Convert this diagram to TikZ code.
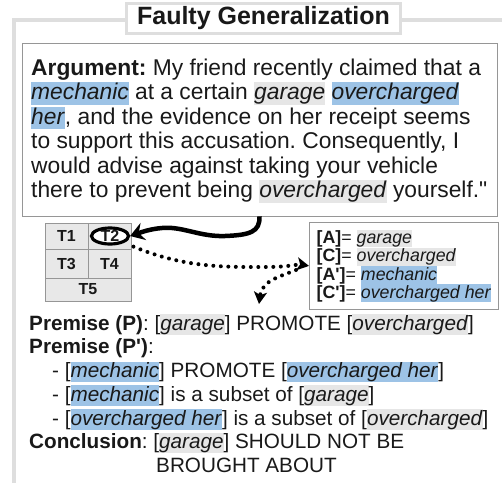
\documentclass[tikz,border=0pt]{standalone}
\usepackage{fontspec}
\setmainfont{Liberation Sans}[Ligatures=TeXOff]
\usetikzlibrary{arrows.meta,calc,shapes.geometric}
\frenchspacing

\definecolor{hlblue}{RGB}{157,195,230}
\definecolor{hlgray}{RGB}{230,230,230}
\definecolor{framegray}{RGB}{222,222,222}
\definecolor{boxgray}{RGB}{150,150,150}
\definecolor{cellgray}{RGB}{232,232,232}
\definecolor{ink}{RGB}{25,25,25}

\newcommand{\hlb}[1]{{\setlength{\fboxsep}{0pt}\colorbox{hlblue}{\rule[-0.22em]{0pt}{1em}\itshape #1\/}}}
\newcommand{\hlg}[1]{{\setlength{\fboxsep}{0pt}\colorbox{hlgray}{\rule[-0.22em]{0pt}{1em}\itshape #1\/}}}

\tikzset{
	titlebox/.style={draw=framegray, line width=3pt, fill=white, minimum width=274, minimum height=30, inner sep=0pt, text=ink, font=\fontsize{25}{30}\selectfont\bfseries},
	argbox/.style={draw=boxgray, line width=0.8pt, minimum width=475, minimum height=173, inner sep=0pt},
	argtext/.style={anchor=north west, inner sep=0pt, align=left, text=ink, font=\fontsize{22.8}{24.4}\selectfont},
	cell/.style={draw=boxgray, line width=0.8pt, fill=cellgray, inner sep=0pt, text=ink, font=\fontsize{16}{18}\selectfont\bfseries},
	ring/.style={draw=black, ellipse, line width=3.2pt, fill=white, minimum width=37, minimum height=16, inner sep=0pt},
	mapbox/.style={draw=boxgray, line width=0.8pt, anchor=north west, minimum width=189, minimum height=87, align=left, text=ink, font=\fontsize{17.8}{18.3}\selectfont},
	premtext/.style={anchor=north west, inner sep=0pt, align=left, text=ink, font=\fontsize{20.7}{23.7}\selectfont},
	bigarrow/.style={line width=4.5pt, -{Stealth[length=14pt, width=18pt, inset=5pt]}},
	dotarrow/.style={line width=4pt, line cap=round, dash pattern=on 0pt off 7.5pt, -{Stealth[length=12pt, width=13pt, inset=3pt]}}
}

\begin{document}
\begin{tikzpicture}[x=1pt, y=-1pt]
			%%%%% START %%%%%
			\useasboundingbox (0,0) rectangle (502,482);
			\clip (0,0) rectangle (502,482);
			
			% outer frame and title
			\draw[line width=4pt, color=framegray] (14,20) rectangle (520,500);
			\node[titlebox] (title) at (263.5,18.5) {Faulty Generalization};
			
			% argument
			\node[argbox] (arg) at (259.5,129.5) {};
			\node[argtext] (argtxt) at (31,57.6) {\rule{0pt}{0.78em}\textbf{Argument:} My friend recently claimed that a\\
				\hlb{mechanic} at a certain \hlg{garage} \hlb{overcharged}\\
				\hlb{her}, and the evidence on her receipt seems\\
				to support this accusation. Consequently, I\\
				would advise against taking your vehicle\\
				there to prevent being \hlg{overcharged} yourself."};
			
			% table
			\node[cell, minimum width=43, minimum height=26] (t1) at (66.5,236) {T1};
			\node[cell, minimum width=43, minimum height=26] (t2) at (109.5,236) {};
			\node[cell, minimum width=43, minimum height=29] (t3) at (66.5,263.5) {T3};
			\node[cell, minimum width=43, minimum height=29] (t4) at (109.5,263.5) {T4};
			\node[cell, minimum width=86, minimum height=23] (t5) at (88,289.5) {T5};
			\node[ring, font=\fontsize{16}{18}\selectfont\bfseries, text=ink] (t2ring) at (110,236) {T2};
			
			% mapping
			\node[mapbox] (map) at (309,222) {\rule{0pt}{0.78em}\textbf{[A]}= \hlg{garage}\\
				\textbf{[C]}= \hlg{overcharged}\\
				\textbf{[A']}= \hlb{mechanic}\\
				\textbf{[C']}= \hlb{overcharged her}};
			
			% arrows
			\draw[bigarrow] (arg.south) .. controls (260,232) and (250,235) .. (225,236) .. controls (200,237) and (182,226) .. (162,228) .. controls (150,229) and (142,232) .. (t2ring.east);
			\coordinate (fork) at (296,270);
			\coordinate (drop) at (259,304);
			\draw[dotarrow, shorten <=10pt] (t2ring.south east) .. controls (185,268) and (225,267) .. (265,267) .. controls (290,267) and (298,264) .. (map.west);
			\draw[dotarrow] (fork) .. controls (282,276) and (262,280) .. (drop);
			
			% premises
			\node[premtext] (prem) at (29,313.9) {\rule{0pt}{0.78em}\textbf{Premise (P)}: [\hlg{garage}] PROMOTE [\hlg{overcharged}]\\
				\textbf{Premise (P')}:\\
				\hspace*{23pt}- [\hlb{mechanic}] PROMOTE [\hlb{overcharged her}]\\
				\hspace*{23pt}- [\hlb{mechanic}] is a subset of [\hlg{garage}]\\
				\hspace*{23pt}- [\hlb{overcharged her}] is a subset of [\hlg{overcharged}]\\
				\textbf{Conclusion}: [\hlg{garage}] SHOULD NOT BE\\
				\hspace*{127pt}BROUGHT ABOUT};
			%%%%% END %%%%%
\end{tikzpicture}
\end{document}
